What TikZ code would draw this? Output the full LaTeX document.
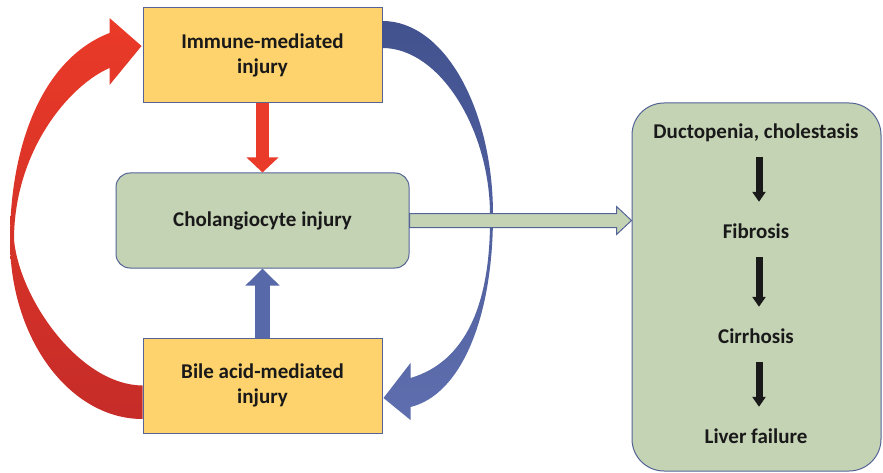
\documentclass[tikz,border=0pt]{standalone}
\usepackage{fontspec}
\setmainfont{Carlito}
\usetikzlibrary{arrows.meta}

\definecolor{injfill}{RGB}{254,210,108}
\definecolor{cholfill}{RGB}{197,211,181}
\definecolor{boxline}{RGB}{84,100,150}
\definecolor{redtop}{RGB}{234,58,40}
\definecolor{redbot}{RGB}{198,44,40}
\definecolor{bluetop}{RGB}{66,82,143}
\definecolor{bluebot}{RGB}{94,110,174}
\definecolor{redstem}{RGB}{233,58,42}
\definecolor{bluestem}{RGB}{88,105,170}
\definecolor{txt}{RGB}{25,25,25}

\tikzset{
	label/.style={font=\fontsize{21}{25}\selectfont\bfseries, text=txt, align=center},
	injbox/.style={label, draw=boxline, line width=1pt, fill=injfill, minimum width=239pt, minimum height=95pt, inner sep=0pt},
	cholbox/.style={label, draw=boxline, line width=1pt, fill=cholfill, rounded corners=14pt, minimum width=293pt, minimum height=95pt, inner sep=0pt},
	outbox/.style={draw=boxline, line width=1pt, fill=cholfill, rounded corners=32pt, minimum width=249pt, minimum height=368pt},
	stage/.style={label, inner sep=0pt, text height=15pt, text depth=4pt},
	redflow/.style={top color=redtop, bottom color=redbot},
	blueflow/.style={top color=bluetop, bottom color=bluebot},
	redlink/.style={draw=redstem, line width=13pt, -{Triangle[width=31pt,length=15pt]}},
	bluelink/.style={draw=bluestem, line width=15pt, -{Triangle[width=33pt,length=17pt]}},
	stagelink/.style={draw=txt, line width=7pt, -{Triangle[width=13pt,length=10pt]}, shorten <=14.5pt, shorten >=21.5pt},
	hollowlink/.style={draw=boxline, line width=1pt, fill=cholfill, line join=miter}
}

\begin{document}
\begin{tikzpicture}[x=1pt,y=-1pt]
	\useasboundingbox (0,0) rectangle (883,473);
	\fill[white] (0,0) rectangle (883,473);

	\node[injbox] at (262.5,55.5) (imm) {Immune-mediated\\injury};
	\node[cholbox] at (262.5,220.5) (chol) {Cholangiocyte injury};
	\node[injbox] at (262.5,385.5) (bile) {Bile acid-mediated\\injury};

	\node[outbox] at (756.5,287) (out) {};
	\node[stage] at (756,133) (duct) {Ductopenia, cholestasis};
	\node[stage] at (756,233) (fib) {Fibrosis};
	\node[stage] at (756,338) (cirr) {Cirrhosis};
	\node[stage] at (756,438) (fail) {Liver failure};

	\draw[redlink] (imm.south) -- (chol.north);
	\draw[bluelink] (bile.north) -- (chol.south);

	\draw[stagelink] ([xshift=3pt]duct.south) -- ([xshift=3pt]fib.north);
	\draw[stagelink] ([xshift=3pt]fib.south) -- ([xshift=3pt]cirr.north);
	\draw[stagelink] ([xshift=3pt]cirr.south) -- ([xshift=3pt]fail.north);

	% big loop from bile acid box back up to immune box
	\path[redflow] ([yshift=-33.5pt]bile.west)
		.. controls (70,419) and (10,339) .. (10,240)
		.. controls (10,150) and (40,60) .. ([shift={(-33pt,22.5pt)}]imm.west)
		-- ([shift={(-33pt,37.5pt)}]imm.west)
		-- ([shift={(-1pt,9.5pt)}]imm.west)
		-- ([shift={(-33pt,-29.5pt)}]imm.west)
		-- ([shift={(-33pt,-12.5pt)}]imm.west)
		.. controls (70,85) and (14,150) .. (14,240)
		.. controls (20,300) and (80,385) .. (bile.west)
		-- cycle;

	% big loop from immune box down to bile acid box
	\path[blueflow] ([yshift=34.5pt]imm.east)
		.. controls (445,21) and (493,110) .. (493,215)
		.. controls (493,320) and (460,395) .. ([shift={(28pt,-21.5pt)}]bile.east)
		-- ([shift={(28pt,-34.5pt)}]bile.east)
		-- ([shift={(1pt,-12.5pt)}]bile.east)
		-- ([shift={(28pt,22.5pt)}]bile.east)
		-- ([shift={(28pt,7.5pt)}]bile.east)
		.. controls (465,362) and (491,305) .. (490,215)
		.. controls (490,130) and (440,48) .. ([yshift=7.5pt]imm.east)
		-- cycle;

	\draw[hollowlink] ([yshift=7pt]chol.east) -- ([shift={(-15pt,7pt)}]chol.east -| out.west)
		-- ([shift={(-15pt,14pt)}]chol.east -| out.west) -- (chol.east -| out.west)
		-- ([shift={(-15pt,-14pt)}]chol.east -| out.west) -- ([shift={(-15pt,-7pt)}]chol.east -| out.west)
		-- ([yshift=-7pt]chol.east) -- cycle;
\end{tikzpicture}
\end{document}
